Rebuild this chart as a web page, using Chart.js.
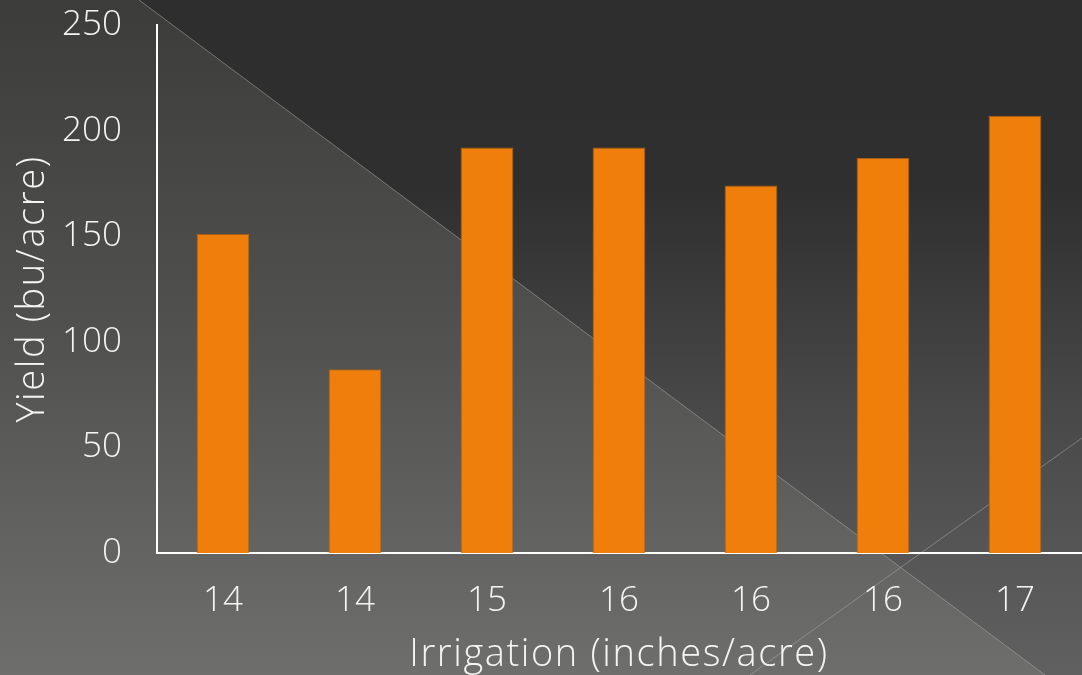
<!DOCTYPE html>
<html>
<head>
<meta charset="utf-8">
<script src="https://cdn.jsdelivr.net/npm/chart.js@4.4.1/dist/chart.umd.min.js"></script>
<style>
  html, body { margin: 0; padding: 0; background: #3a3a38; }
  #wrap { width: 1082px; height: 675px; position: relative; }
</style>
</head>
<body>
<div id="wrap"><canvas id="chart"></canvas></div>
<script>
// Irrigation amount (inches/acre) for each plot, in plot order
const irrigationLabels = ['14', '14', '15', '16', '16', '16', '17'];
// Yield per plot (bu/acre)
const yieldValues = [151, 87, 192, 192, 174, 187, 207];
// Y axis range and step
const yMin = 0;
const yMax = 250;
const yStep = 50;

const FONT = '"Open Sans", Lato, "DejaVu Sans", sans-serif';
const TEXT = '#f4f4f4';

// Slide-style backdrop: two shaded panels split by a diagonal, plus thin accent lines
const backdrop = {
  id: 'backdrop',
  beforeDraw(chart) {
    const { ctx, width: w, height: h } = chart;
    ctx.save();

    // darker panel (upper right)
    const gDark = ctx.createLinearGradient(0, 0, 0, h);
    gDark.addColorStop(0.0, '#2e2e2e');
    gDark.addColorStop(0.28, '#2f2f2f');
    gDark.addColorStop(0.6, '#484848');
    gDark.addColorStop(0.82, '#565656');
    gDark.addColorStop(1.0, '#606060');
    ctx.fillStyle = gDark;
    ctx.fillRect(0, 0, w, h);

    // lighter panel (lower left of the diagonal)
    const gLight = ctx.createLinearGradient(0, 0, 0, h);
    gLight.addColorStop(0.0, '#3c3c3a');
    gLight.addColorStop(0.5, '#515150');
    gLight.addColorStop(1.0, '#6e6e6c');
    ctx.fillStyle = gLight;
    ctx.beginPath();
    ctx.moveTo(0, 0);
    ctx.lineTo(139, 0);
    ctx.lineTo(1045, h);
    ctx.lineTo(0, h);
    ctx.closePath();
    ctx.fill();

    // accent lines
    ctx.strokeStyle = 'rgba(170,170,170,0.55)';
    ctx.lineWidth = 1;
    ctx.beginPath();
    ctx.moveTo(139, 0);
    ctx.lineTo(1045, h);
    ctx.moveTo(w, 438);
    ctx.lineTo(750, h);
    ctx.stroke();

    ctx.restore();

    // wider tracking for the axis titles (drawn in the first scale layer)
    ctx.letterSpacing = '1.6px';
  },
  beforeDatasetsDraw(chart) {
    // tick labels are drawn in a later layer with normal tracking
    chart.ctx.letterSpacing = '0px';
  }
};

new Chart(document.getElementById('chart'), {
  type: 'bar',
  data: {
    labels: irrigationLabels,
    datasets: [{
      data: yieldValues,
      backgroundColor: '#ef7f0a',
      borderColor: '#a85c18',
      borderWidth: 1,
      categoryPercentage: 1.0,
      barPercentage: 0.4
    }]
  },
  options: {
    responsive: true,
    maintainAspectRatio: false,
    animation: false,
    layout: { padding: { top: 25, right: 1, bottom: 0, left: 0 } },
    plugins: {
      legend: { display: false },
      tooltip: { enabled: false }
    },
    scales: {
      x: {
        grid: { display: false, drawTicks: false },
        border: { display: true, color: '#ffffff', width: 2 },
        ticks: {
          z: 1,
          color: TEXT,
          font: { family: FONT, size: 35, weight: '300' },
          padding: 27,
          maxRotation: 0
        },
        title: {
          display: true,
          text: 'Irrigation (inches/acre)',
          color: TEXT,
          font: { family: FONT, size: 38, weight: '300', lineHeight: 1.1 },
          padding: { top: 0, bottom: -1 }
        },
        afterFit(scale) {
          scale.height = 122;
          scale.paddingLeft = 0;
          scale.paddingRight = 0;
        }
      },
      y: {
        min: yMin,
        max: yMax,
        grid: { display: false, drawTicks: false },
        border: { display: true, color: '#ffffff', width: 2 },
        ticks: {
          z: 1,
          stepSize: yStep,
          color: TEXT,
          font: { family: FONT, size: 35, weight: '300' },
          padding: 35
        },
        title: {
          display: true,
          text: 'Yield (bu/acre)',
          color: TEXT,
          font: { family: FONT, size: 38, weight: '300', lineHeight: 1.2 },
          padding: { top: 10, bottom: 0 }
        },
        afterFit(scale) {
          scale.width = 157;
          scale.paddingTop = 0;
          scale.paddingBottom = 0;
        }
      }
    }
  },
  plugins: [backdrop]
});
</script>
</body>
</html>
